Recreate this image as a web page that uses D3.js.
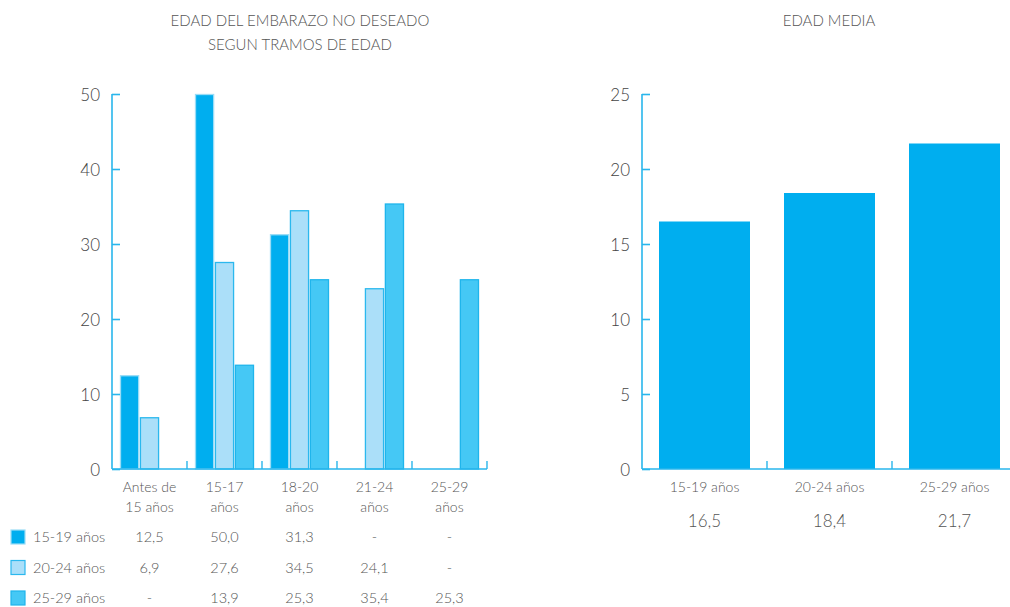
<!DOCTYPE html>
<html><head><meta charset="utf-8">
<script src="https://cdn.jsdelivr.net/npm/d3@7"></script>
<style>
body{margin:0;background:#fff;}
text{font-family:"Lato","Open Sans",sans-serif;font-weight:300;fill:#555;}
</style></head>
<body><svg id="c" width="1010" height="607"></svg>
<script>
const categories = [["Antes de","15 años"],["15-17","años"],["18-20","años"],["21-24","años"],["25-29","años"]];
const catKeys = ["c0","c1","c2","c3","c4"];
const series = ["15-19 años","20-24 años","25-29 años"];
const values1519 = [12.5, 50.0, 31.3, null, null];
const values2024 = [6.9, 27.6, 34.5, 24.1, null];
const values2529 = [null, 13.9, 25.3, 35.4, 25.3];
const leftTicks = [0,10,20,30,40,50];
const mediaCats = ["15-19 años","20-24 años","25-29 años"];
const mediaValues = [16.5, 18.4, 21.7];
const rightTicks = [0,5,10,15,20,25];

const seriesValues = [values1519, values2024, values2529];
const fills = ["#00AEEF","#ABDFF9","#45C8F5"];
const strokes = ["#9ADCF6","#2BB8EE","#1FB5EC"];
const axisColor = "#29B6EC";
const fmt = v => v==null ? "-" : v.toFixed(1).replace(".", ",");

const svg = d3.select("#c");

// ---- Left chart
const y1 = d3.scaleLinear().domain([0,50]).range([469,94]);
const x0 = d3.scaleBand().domain(catKeys).range([112,487]).paddingInner(0.2133).paddingOuter(0.1067);
const x1 = d3.scaleBand().domain(series).range([0,x0.bandwidth()]).paddingInner(0.04);

const g1 = svg.append("g");
catKeys.forEach((k,ci)=>{
  series.forEach((s,si)=>{
    const v = seriesValues[si][ci];
    if(v==null) return;
    g1.append("rect")
      .attr("x", x0(k)+x1(s)+0.5)
      .attr("y", y1(v)+0.5)
      .attr("width", x1.bandwidth()-1)
      .attr("height", y1(0)-y1(v)-0.5)
      .attr("fill", fills[si]).attr("stroke", strokes[si]).attr("stroke-width",1.3);
  });
});
const ya1 = svg.append("g").attr("transform","translate(112,0)")
  .call(d3.axisRight(y1).tickValues(leftTicks).tickSize(8).tickFormat(d3.format("d")));
ya1.select(".domain").attr("stroke",axisColor).attr("stroke-width",1.6).attr("d","M0,94V469");
ya1.selectAll(".tick line").attr("stroke",axisColor).attr("stroke-width",1.6);
ya1.selectAll(".tick text").attr("x",-12).attr("text-anchor","end").attr("dy","0.36em")
  .style("font-size","17px").style("fill","#444");
svg.append("line").attr("x1",112).attr("x2",487).attr("y1",469).attr("y2",469).attr("stroke",axisColor).attr("stroke-width",1.6);
catKeys.forEach(k=>{
  const xe = x0(k) - x0.step()*x0.paddingOuter() + x0.step();
  svg.append("line").attr("x1",xe).attr("x2",xe).attr("y1",469).attr("y2",461).attr("stroke",axisColor).attr("stroke-width",1.4);
});
catKeys.forEach((k,ci)=>{
  const cx = x0(k)+x0.bandwidth()/2;
  categories[ci].forEach((line,li)=>{
    svg.append("text").attr("x",cx).attr("y",492+li*20).attr("text-anchor","middle").style("font-size","14px").text(line);
  });
});
series.forEach((s,si)=>{
  const yc = 537 + si*30.5;
  svg.append("rect").attr("x",11).attr("y",yc-7).attr("width",14).attr("height",14)
    .attr("fill",fills[si]).attr("stroke",strokes[si]).attr("stroke-width",1.2);
  svg.append("text").attr("x",33).attr("y",yc+5).style("font-size","14.5px").text(s);
  catKeys.forEach((k,ci)=>{
    svg.append("text").attr("x",x0(k)+x0.bandwidth()/2).attr("y",yc+5).attr("text-anchor","middle")
      .style("font-size","14.5px").text(fmt(seriesValues[si][ci]));
  });
});
svg.append("text").attr("x",300).attr("y",26).attr("text-anchor","middle").style("font-size","15px").text("EDAD DEL EMBARAZO NO DESEADO");
svg.append("text").attr("x",300).attr("y",50).attr("text-anchor","middle").style("font-size","15px").text("SEGUN TRAMOS DE EDAD");

// ---- Right chart
const y2 = d3.scaleLinear().domain([0,25]).range([469,94]);
const x2 = d3.scaleBand().domain(mediaCats).range([642,1017]).paddingInner(0.272).paddingOuter(0.136);
svg.append("g").selectAll("rect").data(mediaCats).join("rect")
  .attr("x",d=>x2(d)).attr("y",(d,i)=>y2(mediaValues[i]))
  .attr("width",x2.bandwidth()).attr("height",(d,i)=>y2(0)-y2(mediaValues[i]))
  .attr("fill","#00AEEF");
const ya2 = svg.append("g").attr("transform","translate(642,0)")
  .call(d3.axisRight(y2).tickValues(rightTicks).tickSize(8).tickFormat(d3.format("d")));
ya2.select(".domain").attr("stroke",axisColor).attr("stroke-width",1.6).attr("d","M0,94V469");
ya2.selectAll(".tick line").attr("stroke",axisColor).attr("stroke-width",1.6);
ya2.selectAll(".tick text").attr("x",-12).attr("text-anchor","end").attr("dy","0.36em")
  .style("font-size","17px").style("fill","#444");
svg.append("line").attr("x1",642).attr("x2",1010).attr("y1",469).attr("y2",469).attr("stroke",axisColor).attr("stroke-width",1.6);
mediaCats.forEach((c,i)=>{
  const xe = x2(c) - x2.step()*x2.paddingOuter() + x2.step();
  svg.append("line").attr("x1",xe).attr("x2",xe).attr("y1",469).attr("y2",461).attr("stroke",axisColor).attr("stroke-width",1.4);
  const cx = x2(c)+x2.bandwidth()/2;
  svg.append("text").attr("x",cx).attr("y",492).attr("text-anchor","middle").style("font-size","14px").text(c);
  svg.append("text").attr("x",cx).attr("y",527).attr("text-anchor","middle").style("font-size","17px").text(fmt(mediaValues[i]));
});
svg.append("text").attr("x",829).attr("y",26).attr("text-anchor","middle").style("font-size","15px").text("EDAD MEDIA");
</script></body></html>
